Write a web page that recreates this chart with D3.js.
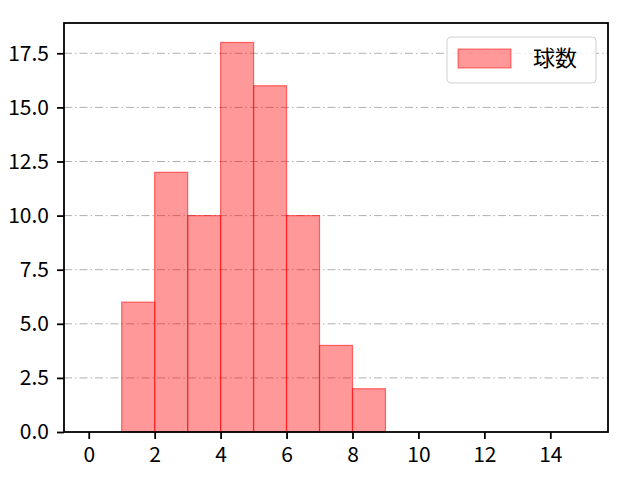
<!DOCTYPE html>
<html>
<head>
<meta charset="utf-8">
<script src="https://cdn.jsdelivr.net/npm/d3@7"></script>
<style>
  body { margin: 0; background: #fff; }
  text { font-family: "Noto Sans CJK JP", "DejaVu Sans", sans-serif; }
</style>
</head>
<body>
<svg id="chart" width="640" height="480"></svg>
<script>
// Data: histogram bins (left edge) and counts
const binStarts = [1, 2, 3, 4, 5, 6, 7, 8];
const counts = [6, 12, 10, 18, 16, 10, 4, 2];
const xTicks = [0, 2, 4, 6, 8, 10, 12, 14];
const yTicks = [0, 2.5, 5, 7.5, 10, 12.5, 15, 17.5];
const seriesName = "球数";

const margin = { left: 64, right: 32, top: 23, bottom: 48 };
const width = 640, height = 480;
const svg = d3.select("#chart");

const x = d3.scaleLinear().domain([-0.75, 15.75]).range([margin.left, width - margin.right]);
const y = d3.scaleLinear().domain([0, 18.9]).range([height - margin.bottom, margin.top]);

// grid lines
svg.append("g")
    .selectAll("line")
    .data(yTicks.slice(1))
    .join("line")
        .attr("x1", margin.left)
        .attr("x2", width - margin.right)
        .attr("y1", d => y(d))
        .attr("y2", d => y(d))
        .attr("stroke", "#b0b0b0")
        .attr("stroke-width", 1)
        .attr("stroke-dasharray", "8,3,1.5,3");

// bars
svg.append("g")
    .selectAll("rect")
    .data(d3.zip(binStarts, counts))
    .join("rect")
        .attr("x", ([s, c]) => x(s))
        .attr("width", ([s, c]) => x(s + 1) - x(s))
        .attr("y", ([s, c]) => y(c))
        .attr("height", ([s, c]) => y(0) - y(c))
        .attr("fill", "rgba(255,0,0,0.4)")
        .attr("stroke", "rgba(255,0,0,0.55)")
        .attr("stroke-width", 1.2);

// axes
const xAxis = svg.append("g")
    .attr("transform", `translate(0,${height - margin.bottom})`)
    .call(d3.axisBottom(x).tickValues(xTicks).tickFormat(d3.format("d")).tickSize(7).tickPadding(8));
const yAxis = svg.append("g")
    .attr("transform", `translate(${margin.left},0)`)
    .call(d3.axisLeft(y).tickValues(yTicks).tickFormat(d3.format(".1f")).tickSize(7).tickPadding(8));
[xAxis, yAxis].forEach(a => {
    a.select(".domain").remove();
    a.selectAll("line").attr("stroke", "#000").attr("stroke-width", 1.8);
    a.selectAll("text").attr("font-size", 21).attr("fill", "#000");
});

// frame
svg.append("rect")
    .attr("x", margin.left)
    .attr("y", margin.top)
    .attr("width", width - margin.left - margin.right)
    .attr("height", height - margin.top - margin.bottom)
    .attr("fill", "none")
    .attr("stroke", "#000")
    .attr("stroke-width", 1.8);

// legend
const legend = svg.append("g").attr("transform", "translate(447,37)");
legend.append("rect")
    .attr("width", 149)
    .attr("height", 46)
    .attr("rx", 4)
    .attr("fill", "rgba(255,255,255,0.8)")
    .attr("stroke", "#d0d0d0");
legend.append("rect")
    .attr("x", 11)
    .attr("y", 12)
    .attr("width", 53)
    .attr("height", 19)
    .attr("fill", "rgba(255,0,0,0.4)")
    .attr("stroke", "rgba(255,0,0,0.55)");
legend.append("text")
    .attr("x", 86)
    .attr("y", 23)
    .attr("dominant-baseline", "middle")
    .attr("font-size", 22)
    .text(seriesName);
</script>
</body>
</html>
